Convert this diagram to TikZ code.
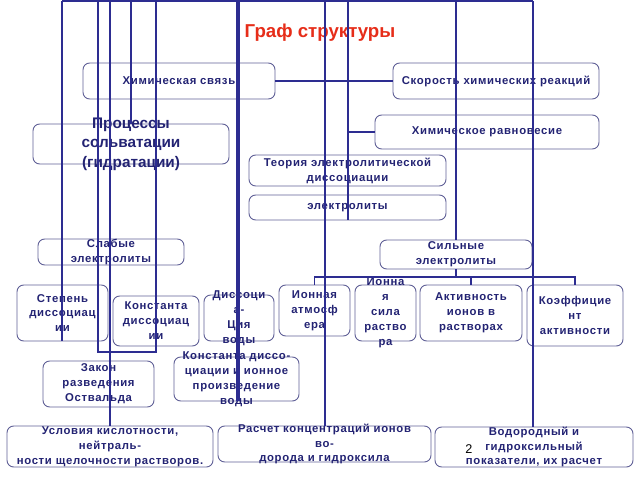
\documentclass[tikz,border=0pt]{standalone}
\usepackage{fontspec}
\setmainfont{Liberation Sans}
\newfontfamily\boxfont[LetterSpace=6]{Liberation Sans}
\usetikzlibrary{fit}
\definecolor{linec}{RGB}{45,45,145}
\definecolor{boxc}{RGB}{95,95,150}
\definecolor{txtc}{RGB}{35,35,115}
\definecolor{titlec}{RGB}{230,45,25}
\tikzset{
  box/.style={draw=boxc, line width=0.7pt, rounded corners=5pt, inner sep=0pt},
  txt/.style={align=center, text=txtc, inner sep=0pt, font=\boxfont\bfseries\fontsize{8.5}{11.2}\selectfont},
  bigtxt/.style={txt, font=\bfseries\fontsize{11.5}{14.5}\selectfont},
  conn/.style={draw=linec, line width=1.3pt},
  thickconn/.style={draw=linec, line width=2.4pt},
}
\newcommand\mybox[6]{\node[box, fit={(#2,#3) (#4,#5)}, label={[txt]center:{#6}}] (#1) {};}
\begin{document}
\begin{tikzpicture}[x=0.75pt, y=-0.75pt]
\useasboundingbox (0,0) rectangle (640,480);
\node[font=\bfseries\fontsize{14}{16}\selectfont, text=titlec, inner sep=0pt] (title) at (320,33) {Граф структуры};
\mybox{chem}{83}{63}{275}{99}{Химическая связь}
\mybox{skor}{393}{63}{599}{99}{Скорость химических реакций}
\mybox{ravn}{375}{115}{599}{149}{Химическое равновесие}
\node[box, fit={(33,124) (229,164)}, label={[bigtxt]center:{Процессы\\сольватации\\(гидратации)}}] (proc) {};
\mybox{teor}{249}{155}{446}{186}{Теория электролитической\\диссоциации}
\mybox{elec}{249}{195}{446}{220}{электролиты}
\mybox{slab}{38}{239}{184}{265}{Слабые\\электролиты}
\mybox{silnye}{380}{240}{532}{269}{Сильные\\электролиты}
\mybox{stepen}{17}{285}{108}{341}{Степень\\диссоциац\\ии}
\mybox{kdis}{113}{296}{199}{346}{Константа\\диссоциац\\ии}
\mybox{dissw}{204}{295}{274}{341}{Диссоци\\а-\\Ция\\воды}
\mybox{atm}{279}{285}{350}{336}{Ионная\\атмосф\\ера}
\mybox{sila}{355}{285}{416}{341}{Ионна\\я\\сила\\раство\\ра}
\mybox{activ}{420}{285}{522}{341}{Активность\\ионов в\\растворах}
\mybox{koef}{527}{285}{623}{346}{Коэффицие\\нт\\активности}
\mybox{ostw}{43}{361}{154}{407}{Закон\\разведения\\Оствальда}
\mybox{kdw}{174}{357}{299}{401}{Константа диссо-\\циации и ионное\\произведение\\воды}
\mybox{usl}{7}{426}{213}{467}{Условия кислотности,\\нейтраль-\\ности щелочности растворов.}
\mybox{rasch}{218}{426}{431}{462}{Расчет концентраций ионов\\во-\\дорода и гидроксила}
\mybox{vodor}{435}{427}{633}{467}{Водородный и\\гидроксильный\\показатели, их расчет}
\node[font=\fontsize{9.5}{11}\selectfont, inner sep=0pt] (pnum) at (469,449.5) {2};
% connectors
\coordinate (t62) at (62,1);
\coordinate (t98) at (98,1);
\coordinate (t110) at (110,1);
\coordinate (t131) at (131,1);
\coordinate (t156) at (156,1);
\coordinate (t238) at (238,1);
\coordinate (t325) at (325,1);
\coordinate (t348) at (348,1);
\coordinate (t456) at (456,1);
\coordinate (t533) at (533,1);
\coordinate (lp) at (98,352);
\coordinate (lq) at (156,352);
\coordinate (sb) at (456,277);
\draw[conn] (t62) -- (t533);
\draw[conn] (t62) -- (t62 |- stepen.south);
\draw[conn] (t98) -- (lp) -- (lq) -- (t156);
\draw[conn] (t110) -- (t110 |- usl.north);
\draw[conn] (t131) -- (t131 |- proc.north);
\draw[thickconn] (t238) -- (t238 |- kdw.south);
\draw[conn] (t325) -- (t325 |- rasch.north);
\draw[conn] (t348) -- (t348 |- elec.south);
\draw[conn] (t348 |- ravn.west) -- (ravn.west);
\draw[conn] (t456) -- (silnye.north);
\draw[conn] (t533) -- (t533 |- vodor.north);
\draw[conn] (chem.east) -- (skor.west);
\draw[conn] (silnye.south) -- (sb);
\draw[conn] (atm.north) -- (atm.north |- sb) -- (koef.north |- sb) -- (koef.north);
\draw[conn] (activ.north) -- (activ.north |- sb);
\end{tikzpicture}
\end{document}
